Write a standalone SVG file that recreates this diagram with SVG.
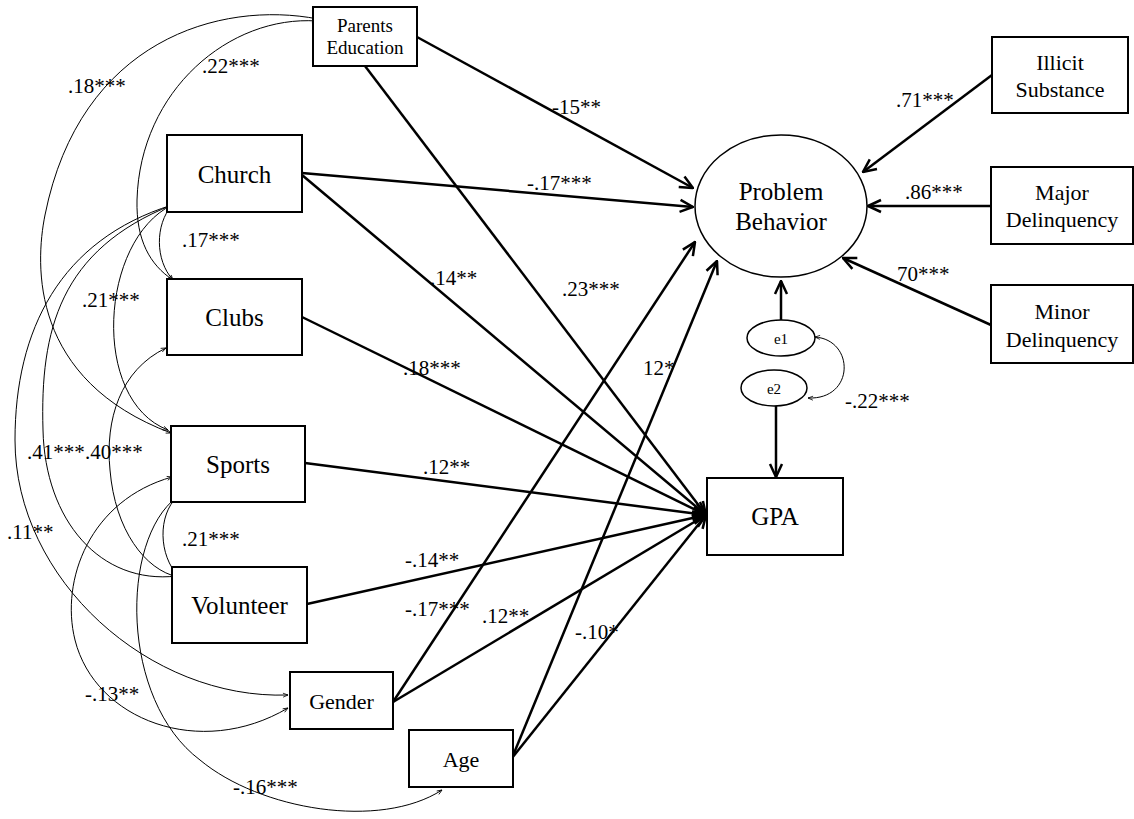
<svg xmlns="http://www.w3.org/2000/svg" width="1134" height="819" viewBox="0 0 1134 819" font-family="'Liberation Serif', 'Times New Roman', serif">
<defs>
<marker id="arr" markerUnits="userSpaceOnUse" viewBox="0 0 16 16" refX="15" refY="8" markerWidth="16" markerHeight="16" orient="auto">
<path d="M2,2 L15,8 L2,14" fill="none" stroke="#000" stroke-width="2.5"/>
</marker>
<marker id="sm" markerUnits="userSpaceOnUse" viewBox="0 0 6 6" refX="5.5" refY="3" markerWidth="6" markerHeight="6" orient="auto-start-reverse">
<path d="M0.5,1 L5.5,3 L0.5,5" fill="none" stroke="#000" stroke-width="0.8"/>
</marker>
</defs>
<style>
text{font-family:'Liberation Serif','Times New Roman',serif}
.box{fill:#fff;stroke:#000;stroke-width:2}
.ell{fill:#fff;stroke:#000;stroke-width:1.5}
.t{fill:#000;text-anchor:middle}
.lbl{fill:#000;font-size:21px}
.path{stroke:#000;stroke-width:2.5;fill:none;marker-end:url(#arr)}
.cov{stroke:#000;stroke-width:1;fill:none;marker-start:url(#sm);marker-end:url(#sm)}
</style>
<rect width="1134" height="819" fill="#fff"/>

<g id="connectors">
<path class="cov" d="M318,19 C220,0 80,40 45,215 C35,265 30,380 171,433"/>
<path class="cov" d="M317,21 C230,15 140,90 137,200 C136,240 150,265 173,280"/>
<path class="cov" d="M172,205 C155,225 155,260 173,280"/>
<path class="cov" d="M172,205 C100,240 90,400 168,430"/>
<path class="cov" d="M172,205 C60,250 40,330 43,430 C45,520 100,585 177,576"/>
<path class="cov" d="M172,205 C60,240 15,330 15,440 C15,580 150,700 288,695"/>
<path class="cov" d="M166,348 C120,370 105,420 110,470 C115,530 145,570 178,577"/>
<path class="cov" d="M177,497 C158,515 158,555 179,577"/>
<path class="cov" d="M172,477 C90,500 60,580 75,640 C95,720 200,760 288,708"/>
<path class="cov" d="M177,497 C120,540 120,700 200,760 C260,810 380,830 442,790"/>
<path class="cov" d="M815,337 C855,340 855,400 808,398"/>

<line class="path" x1="417" y1="37" x2="693" y2="188"/>
<line class="path" x1="302" y1="173" x2="693" y2="207"/>
<line class="path" x1="393" y1="702" x2="695" y2="242"/>
<line class="path" x1="512" y1="758" x2="717" y2="261"/>
<line class="path" x1="365" y1="66" x2="706" y2="515"/>
<line class="path" x1="302" y1="175" x2="706" y2="515"/>
<line class="path" x1="302" y1="317" x2="706" y2="515"/>
<line class="path" x1="305" y1="463" x2="706" y2="515"/>
<line class="path" x1="307" y1="604" x2="706" y2="515"/>
<line class="path" x1="393" y1="702" x2="706" y2="515"/>
<line class="path" x1="512" y1="758" x2="706" y2="515"/>
<line class="path" x1="992" y1="75" x2="863" y2="172"/>
<line class="path" x1="991" y1="206" x2="868" y2="206"/>
<line class="path" x1="991" y1="325" x2="843" y2="258"/>
<line class="path" x1="781" y1="320" x2="781" y2="281"/>
<line class="path" x1="776" y1="406" x2="776" y2="477"/>
</g>

<g id="labels">
<text class="lbl" x="68" y="93">.18***</text>
<text class="lbl" x="202" y="73">.22***</text>
<text class="lbl" x="182" y="247">.17***</text>
<text class="lbl" x="82" y="307">.21***</text>
<text class="lbl" x="27" y="459">.41***</text>
<text class="lbl" x="85" y="459">.40***</text>
<text class="lbl" x="7" y="539">.11**</text>
<text class="lbl" x="182" y="546">.21***</text>
<text class="lbl" x="85" y="701">-.13**</text>
<text class="lbl" x="233" y="794">-.16***</text>
<text class="lbl" x="552" y="114">-15**</text>
<text class="lbl" x="527" y="190">-.17***</text>
<text class="lbl" x="430" y="285">.14**</text>
<text class="lbl" x="562" y="296">.23***</text>
<text class="lbl" x="403" y="375">.18***</text>
<text class="lbl" x="643" y="375">12*</text>
<text class="lbl" x="423" y="474">.12**</text>
<text class="lbl" x="405" y="567">-.14**</text>
<text class="lbl" x="405" y="616">-.17***</text>
<text class="lbl" x="482" y="623">.12**</text>
<text class="lbl" x="575" y="639">-.10*</text>
<text class="lbl" x="896" y="107">.71***</text>
<text class="lbl" x="905" y="199">.86***</text>
<text class="lbl" x="897" y="281">70***</text>
<text class="lbl" x="845" y="408">-.22***</text>
</g>

<g id="parents-education"><rect class="box" x="313" y="7" width="104" height="59"/><text class="t" x="365" y="32" font-size="19">Parents</text><text class="t" x="365" y="54" font-size="19">Education</text></g>
<g id="church"><rect class="box" x="167" y="135" width="135" height="77"/><text class="t" x="234.5" y="183" font-size="25">Church</text></g>
<g id="clubs"><rect class="box" x="167" y="279" width="135" height="76"/><text class="t" x="234.5" y="326" font-size="25">Clubs</text></g>
<g id="sports"><rect class="box" x="171" y="426" width="134" height="76"/><text class="t" x="238" y="473" font-size="25">Sports</text></g>
<g id="volunteer"><rect class="box" x="172" y="567" width="135" height="76"/><text class="t" x="239.5" y="614" font-size="25">Volunteer</text></g>
<g id="gender"><rect class="box" x="290" y="672" width="103" height="57"/><text class="t" x="341.5" y="709" font-size="22">Gender</text></g>
<g id="age"><rect class="box" x="409" y="730" width="104" height="57"/><text class="t" x="461" y="767" font-size="22">Age</text></g>
<g id="problem-behavior"><ellipse class="ell" cx="781" cy="206" rx="86" ry="71"/><text class="t" x="781" y="200" font-size="25">Problem</text><text class="t" x="781" y="230" font-size="25">Behavior</text></g>
<g id="gpa"><rect class="box" x="707" y="478" width="136" height="77"/><text class="t" x="775" y="525" font-size="25">GPA</text></g>
<g id="illicit-substance"><rect class="box" x="992" y="37" width="136" height="76"/><text class="t" x="1060" y="70" font-size="22">Illicit</text><text class="t" x="1060" y="97" font-size="22">Substance</text></g>
<g id="major-delinquency"><rect class="box" x="991" y="167" width="142" height="77"/><text class="t" x="1062" y="200" font-size="22">Major</text><text class="t" x="1062" y="227" font-size="22">Delinquency</text></g>
<g id="minor-delinquency"><rect class="box" x="991" y="285" width="142" height="78"/><text class="t" x="1062" y="319" font-size="22">Minor</text><text class="t" x="1062" y="347" font-size="22">Delinquency</text></g>
<g id="e1"><ellipse class="ell" cx="781" cy="338" rx="34" ry="18"/><text class="t" x="781" y="344" font-size="15">e1</text></g>
<g id="e2"><ellipse class="ell" cx="774" cy="388" rx="33" ry="18"/><text class="t" x="774" y="394" font-size="15">e2</text></g>
</svg>
